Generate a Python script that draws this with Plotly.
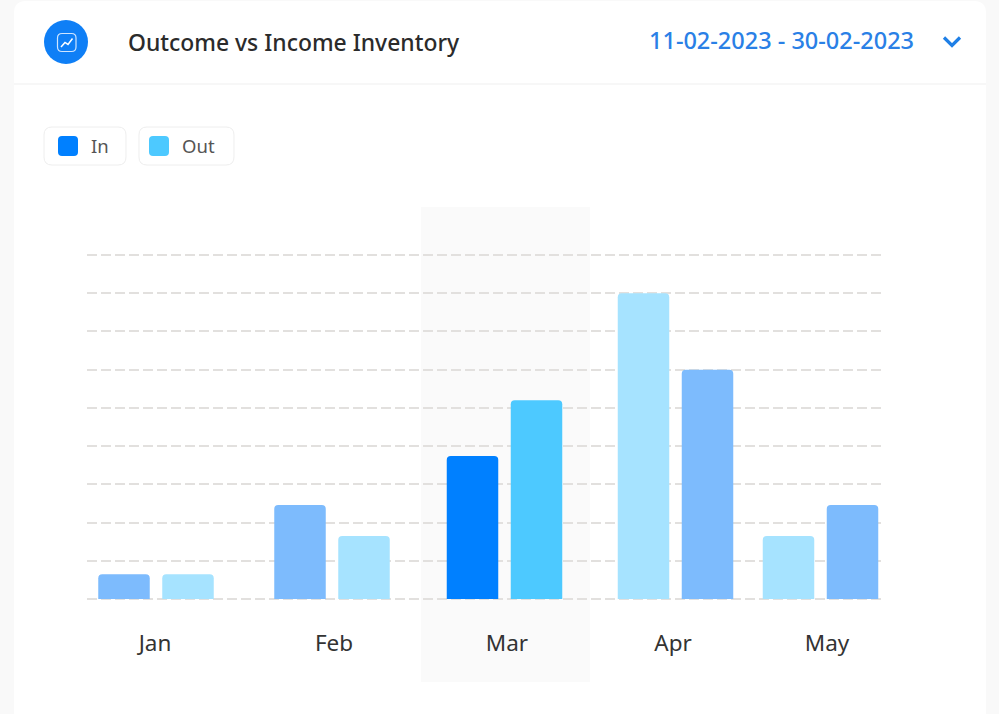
import plotly.graph_objects as go

# --- data ---
months = ["Jan", "Feb", "Mar", "Apr", "May"]
in_values = [6.5, 24.6, 37.4, 60, 24.6]
out_values = [6.5, 16.5, 52, 80, 16.5]
grid_values = [0, 10, 20, 30, 40, 50, 60, 70, 80, 90]

# --- layout (x axis is laid out in page pixels, months are unevenly spaced) ---
W, H = 999, 714
group_centres = [156, 332, 504.5, 675.5, 820.5]
label_centres = [155, 334, 507, 673, 827]
in_side = [-1, -1, -1, 1, 1]      # in Apr/May the two colours swap sides
BAR_W = 51.5
GAP = 12.5
PL, PR, PT, PB = 87, 885, 207, 682
Y0, Y90 = 599, 255
unit = (Y0 - Y90) / 90
y_range = [-(PB - Y0) / unit, (Y0 - PT) / unit]

IN, OUT = "#0080FF", "#4DC9FF"
IN_DIM, OUT_DIM = "#7DBBFD", "#A6E3FF"
ACTIVE = 2

def px(x):
    return (x - PL) / (PR - PL)

def py(y):
    return (PB - y) / (PB - PT)

def offs(side):
    return [(-BAR_W - GAP / 2) if s < 0 else GAP / 2 for s in side]

def cols(on, off):
    return [on if i == ACTIVE else off for i in range(len(months))]

fig = go.Figure()
fig.add_bar(name="In", x=group_centres, y=in_values, width=BAR_W, offset=offs(in_side),
            marker=dict(color=cols(IN, IN_DIM), line_width=0))
fig.add_bar(name="Out", x=group_centres, y=out_values, width=BAR_W,
            offset=offs([-s for s in in_side]),
            marker=dict(color=cols(OUT, OUT_DIM), line_width=0))

def path(points, close=False):
    s = "M" + " L".join(f"{px(x):.5f},{py(y):.5f}" for x, y in points)
    return s + (" Z" if close else "")

def rrect(x0, y0, x1, y1, r):
    return (f"M{px(x0+r):.5f},{py(y0):.5f} L{px(x1-r):.5f},{py(y0):.5f} "
            f"Q{px(x1):.5f},{py(y0):.5f} {px(x1):.5f},{py(y0+r):.5f} "
            f"L{px(x1):.5f},{py(y1-r):.5f} Q{px(x1):.5f},{py(y1):.5f} {px(x1-r):.5f},{py(y1):.5f} "
            f"L{px(x0+r):.5f},{py(y1):.5f} Q{px(x0):.5f},{py(y1):.5f} {px(x0):.5f},{py(y1-r):.5f} "
            f"L{px(x0):.5f},{py(y0+r):.5f} Q{px(x0):.5f},{py(y0):.5f} {px(x0+r):.5f},{py(y0):.5f} Z")

def paper_shape(d, fill="rgba(0,0,0,0)", line=None, lw=1, layer="below"):
    return dict(type="path", xref="paper", yref="paper", path=d, fillcolor=fill, layer=layer,
                line=dict(color=line or "rgba(0,0,0,0)", width=lw if line else 0))

shapes = [
    paper_shape(rrect(14, 1, 986, 730, 12), fill="#FFFFFF"),
    paper_shape(path([(14, 84), (986, 84)]), line="#F4F5F5", lw=1.5),
    # highlight band: data refs keep it above the gridlines and below the bars
    dict(type="rect", xref="x", yref="y", x0=421, x1=590, y0=y_range[0] + 0.01, y1=y_range[1] - 0.01,
         fillcolor="#FAFAFA", line_width=0, layer="below"),
    # header icon
    dict(type="circle", xref="paper", yref="paper", x0=px(44), x1=px(88), y0=py(64), y1=py(20),
         fillcolor="#0F7FF6", line_width=0, layer="above"),
    paper_shape(rrect(57.5, 33.5, 76, 51.5, 4.5), line="#CFE5FF", lw=1.2, layer="above"),
    paper_shape(path([(61, 47), (65, 42.5), (68, 44.5), (72.5, 38.5)]), line="#FFFFFF", lw=1.5, layer="above"),
    # chevron
    paper_shape(path([(944, 37.5), (952, 45.5), (960, 37.5)]), line="#1F7FE6", lw=3.2, layer="above"),
    # legend chips
    paper_shape(rrect(44, 127, 126, 165, 8), fill="#FFFFFF", line="#EEEEEE", lw=1),
    paper_shape(rrect(139, 127, 234, 165, 8), fill="#FFFFFF", line="#EEEEEE", lw=1),
    paper_shape(rrect(58, 136, 78, 156, 4), fill=IN, layer="above"),
    paper_shape(rrect(149, 136, 169, 156, 4), fill=OUT, layer="above"),
]

def label(text, x, y, size, color, weight=400):
    return dict(text=text, x=px(x), y=py(y), xref="paper", yref="paper", showarrow=False,
                xanchor="left", yanchor="middle", xshift=-1,
                font=dict(family="Noto Sans", size=size, color=color, weight=weight))

annotations = [
    label("Outcome vs Income Inventory", 127, 42, 22.9, "#2B2B2B", 500),
    label("11-02-2023 - 30-02-2023", 648, 40, 23.5, "#2A80E6", 500),
    label("In", 90, 146, 18.5, "#555555"),
    label("Out", 181, 146, 18.5, "#555555"),
]

fig.update_layout(
    width=W, height=H, autosize=False, showlegend=False, barmode="overlay", barcornerradius=4,
    margin=dict(l=PL, r=W - PR, t=PT, b=H - PB, pad=0),
    paper_bgcolor="#F9F9F9", plot_bgcolor="rgba(0,0,0,0)",
    shapes=shapes, annotations=annotations,
    font=dict(family="Noto Sans"),
    xaxis=dict(range=[PL, PR], tickmode="array", tickvals=label_centres, ticktext=months,
               showgrid=False, zeroline=False, showline=False, ticks="", anchor="free",
               position=py(627), tickfont=dict(family="Noto Sans", size=22.5, color="#333333")),
    yaxis=dict(range=y_range, tickmode="array", tickvals=grid_values, showticklabels=False,
               showgrid=True, gridcolor="#E2E0DE", gridwidth=2, griddash="10px,4px",
               zeroline=False, showline=False, ticks=""),
)

fig.write_html("out.html", config=dict(displayModeBar=False),
               post_script="document.body.style.margin='0';document.documentElement.style.overflow='hidden';")
